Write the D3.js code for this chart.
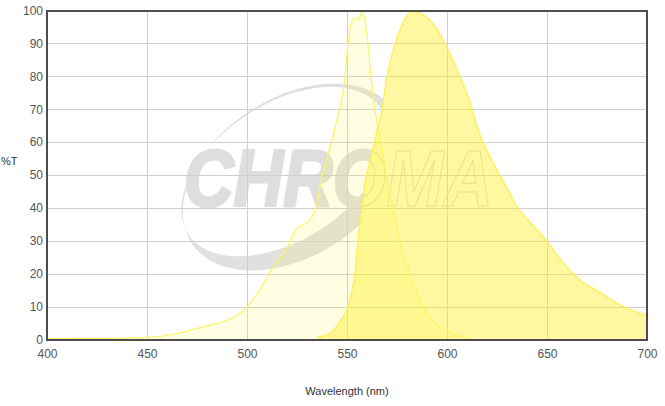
<!DOCTYPE html>
<html>
<head>
<meta charset="utf-8">
<script src="https://cdn.jsdelivr.net/npm/d3@7"></script>
<style>
  html, body { margin: 0; padding: 0; background: #fff; }
  svg { display: block; font-family: "Liberation Sans", Arial, sans-serif; }
</style>
</head>
<body>
<svg id="chart" width="665" height="406"></svg>
<script>
// ---- data ----
const xTicks = [400, 450, 500, 550, 600, 650, 700];
const yTicks = [0, 10, 20, 30, 40, 50, 60, 70, 80, 90, 100];

const exWavelength = [400, 410, 420, 430, 440, 450, 455, 460, 465, 470, 475, 480, 485, 490, 495, 500, 505, 510, 515, 520, 525, 528, 531, 535, 538, 541.5, 545, 547, 549, 550.5, 552, 554, 556, 557.5, 559, 560.5, 562, 564, 567, 570, 573, 576.5, 581.5, 588, 594, 600, 605, 610];
const exTransmission = [0.4, 0.4, 0.5, 0.5, 0.6, 0.8, 1.0, 1.4, 2.0, 2.7, 3.5, 4.3, 5.0, 6.0, 7.5, 10, 14, 19, 24, 28, 34, 35, 36, 42, 51, 58.5, 67, 72, 80, 90, 96, 98, 97.5, 100, 97, 90, 80, 70, 60, 49, 40, 30, 20, 10, 5, 2.8, 1.5, 0.6];

const emWavelength = [535, 538, 541.5, 544, 547, 550.5, 552.5, 554, 555.5, 557.5, 559, 561, 563, 565, 567.5, 570, 574, 577, 580, 583, 586, 590, 595, 599, 603, 606.5, 610, 612.5, 615, 618, 622, 626.5, 631, 635.5, 642, 650, 656, 662.5, 668, 675, 682, 688, 694, 700];
const emTransmission = [0.8, 1.2, 2, 3.5, 6, 10, 15, 20, 30, 40, 48, 53, 58, 63.5, 70, 80, 90, 95, 98.5, 100, 99.5, 98, 94.5, 90, 85, 80, 75, 70, 65, 60, 55, 50, 45, 40, 35.5, 30, 25, 20.5, 17.5, 15, 12.3, 10.2, 8.7, 7.5];

const xLabel = "Wavelength (nm)";
const yLabel = "%T";
const watermarkText = "CHROMA";

// ---- layout ----
const svg = d3.select("#chart");
const plotLeft = 47, plotRight = 647, plotTop = 11, plotBottom = 340;

const x = d3.scaleLinear().domain([400, 700]).range([plotLeft, plotRight]);
const y = d3.scaleLinear().domain([0, 100]).range([plotBottom, plotTop]);

const exData = exWavelength.map((w, i) => ({ w, t: exTransmission[i] }));
const emData = emWavelength.map((w, i) => ({ w, t: emTransmission[i] }));

const area = d3.area().x(d => x(d.w)).y0(y(0)).y1(d => y(d.t)).curve(d3.curveMonotoneX);
const line = d3.line().x(d => x(d.w)).y(d => y(d.t)).curve(d3.curveMonotoneX);

// masks for the watermark (hidden where emission fill is)
const defs = svg.append("defs");
const mOut = defs.append("mask").attr("id", "outsideEm").attr("maskUnits", "userSpaceOnUse")
  .attr("x", 0).attr("y", 0).attr("width", 665).attr("height", 406);
mOut.append("rect").attr("width", 665).attr("height", 406).attr("fill", "#fff");
mOut.append("path").attr("d", area(emData)).attr("fill", "#000");
const mIn = defs.append("mask").attr("id", "insideEm").attr("maskUnits", "userSpaceOnUse")
  .attr("x", 0).attr("y", 0).attr("width", 665).attr("height", 406);
mIn.append("rect").attr("width", 665).attr("height", 406).attr("fill", "#000");
mIn.append("path").attr("d", area(emData)).attr("fill", "#fff");

// ---- watermark (decoration) ----
function ellipsePath(cx, cy, rx, ry, rotDeg) {
  const a = rotDeg * Math.PI / 180, n = 120, pts = [];
  for (let i = 0; i < n; i++) {
    const t = i / n * 2 * Math.PI;
    const ux = rx * Math.cos(t), uy = ry * Math.sin(t);
    pts.push([cx + ux * Math.cos(a) - uy * Math.sin(a), cy + ux * Math.sin(a) + uy * Math.cos(a)]);
  }
  return "M" + pts.map(p => p.join(",")).join("L") + "Z";
}
const wm = svg.append("g");
const wmFill = wm.append("g").attr("mask", "url(#outsideEm)");
wmFill.append("path")
  .attr("d", ellipsePath(293, 177, 121, 79, -33) + ellipsePath(284.7, 171.6, 115, 68, -33))
  .attr("fill", "#e0e0e0").attr("fill-rule", "evenodd");
const letterAttrs = sel => sel
  .attr("x", 184).attr("y", 206)
  .attr("font-size", 80).attr("font-weight", "bold").attr("font-style", "italic")
  .attr("textLength", 309).attr("lengthAdjust", "spacingAndGlyphs")
  .text(watermarkText);
wmFill.append("text").call(letterAttrs).attr("fill", "#dedede")
  .attr("stroke", "#dedede").attr("stroke-width", 3).attr("stroke-linejoin", "round");
wm.append("g").attr("mask", "url(#insideEm)")
  .append("text").call(letterAttrs).attr("fill", "none").attr("stroke", "#d6d6d6").attr("stroke-width", 1);

// ---- grid ----
const grid = svg.append("g").attr("shape-rendering", "crispEdges").attr("stroke", "#cfcfcf").attr("stroke-width", 1);
grid.selectAll(".gx").data(xTicks.slice(1, -1)).join("line")
  .attr("x1", d => x(d)).attr("x2", d => x(d)).attr("y1", plotTop).attr("y2", plotBottom);
grid.selectAll(".gy").data(yTicks.slice(1, -1)).join("line")
  .attr("x1", plotLeft).attr("x2", plotRight).attr("y1", d => y(d)).attr("y2", d => y(d));

// ---- spectra ----
svg.append("path").attr("d", area(exData)).attr("fill", "rgba(255,245,60,0.15)");
svg.append("path").attr("d", area(emData)).attr("fill", "rgba(255,238,30,0.42)");
svg.append("path").attr("d", line(exData)).attr("fill", "none").attr("stroke", "#fbf56a").attr("stroke-width", 1.3);
svg.append("path").attr("d", line(emData)).attr("fill", "none").attr("stroke", "#fdf060").attr("stroke-width", 1.5);

// ---- frame ----
svg.append("rect").attr("x", plotLeft).attr("y", plotTop).attr("width", plotRight - plotLeft).attr("height", plotBottom - plotTop)
  .attr("fill", "none").attr("stroke", "#4d4d4d").attr("stroke-width", 2);

// ---- axes labels ----
const xAxis = d3.axisBottom(x).tickValues(xTicks).tickSize(0).tickPadding(9).tickFormat(d3.format("d"));
const yAxis = d3.axisLeft(y).tickValues(yTicks).tickSize(0).tickPadding(4).tickFormat(d3.format("d"));
const gx = svg.append("g").attr("transform", `translate(0,${plotBottom})`).call(xAxis);
const gy = svg.append("g").attr("transform", `translate(${plotLeft},0)`).call(yAxis);
[gx, gy].forEach(g => {
  g.select(".domain").remove();
  g.selectAll("text").attr("fill", "#555").attr("font-size", 12)
    .attr("font-family", "\"Liberation Sans\", Arial, sans-serif");
});
gy.selectAll("text").attr("dy", "0.28em");

svg.append("text").attr("x", 1).attr("y", 165).attr("font-size", 11).attr("fill", "#333").text(yLabel);
svg.append("text").attr("x", (plotLeft + plotRight) / 2).attr("y", 395).attr("text-anchor", "middle")
  .attr("font-size", 11).attr("fill", "#333").text(xLabel);
</script>
</body>
</html>
